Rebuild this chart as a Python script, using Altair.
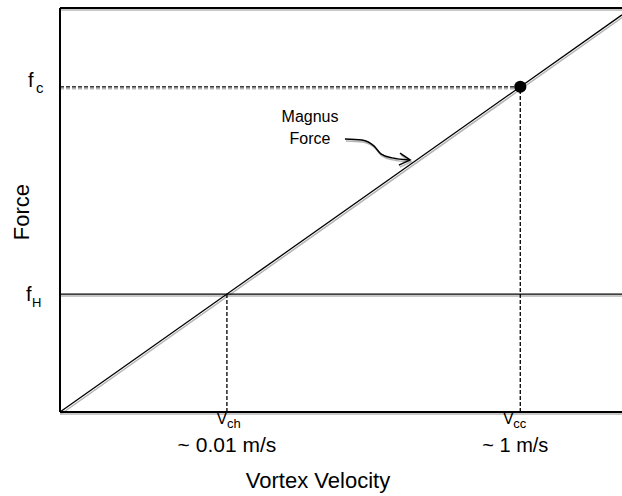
import altair as alt
import pandas as pd

# ---- values (arbitrary linear units) ----
magnus_x = [0, 10]
magnus_y = [0, 9.83]
v_ch = 2.97      # ~0.01 m/s
v_cc = 8.19      # ~1 m/s
f_H = 2.92
f_c = 8.05
x_max = 10
y_max = 10

# hand-drawn curved arrow pointing at the Magnus force line
arrow_x = [5.07, 5.37, 5.59, 5.71, 5.91, 6.21]
arrow_y = [6.76, 6.73, 6.58, 6.39, 6.29, 6.24]
head_x = [6.05, 6.23, 6.03]
head_y = [6.41, 6.24, 6.11]

FONT = "Liberation Sans"
SHADOW = "#b4b4b4"

xs = alt.Scale(domain=[0, x_max], nice=False, zero=False)
ys = alt.Scale(domain=[0, y_max], nice=False, zero=False)

base = alt.Chart(pd.DataFrame({"_": [0]}))

def seg(df, color, width, dash=None, xo=0, yo=0, interp="linear", order=False):
    kw = dict(color=color, strokeWidth=width, xOffset=xo, yOffset=yo,
              interpolate=interp, strokeCap="butt")
    if dash:
        kw["strokeDash"] = dash
    enc = dict(x=alt.X("x:Q", scale=xs, axis=None),
               y=alt.Y("y:Q", scale=ys, axis=None))
    if order:
        enc["order"] = alt.Order("i:Q")
    return alt.Chart(df).mark_line(**kw).encode(**enc)

magnus = pd.DataFrame({"x": magnus_x, "y": magnus_y})
fh_line = pd.DataFrame({"x": [0, x_max], "y": [f_H, f_H]})
fc_dash = pd.DataFrame({"x": [0, v_cc], "y": [f_c, f_c]})
vcc_dash = pd.DataFrame({"x": [v_cc, v_cc], "y": [0, f_c]})
vch_dash = pd.DataFrame({"x": [v_ch, v_ch], "y": [0, f_H]})
arrow = pd.DataFrame({"x": arrow_x, "y": arrow_y, "i": range(len(arrow_x))})
head = pd.DataFrame({"x": head_x, "y": head_y, "i": range(len(head_x))})
top = pd.DataFrame({"x": [0, x_max], "y": [y_max, y_max]})
bottom = pd.DataFrame({"x": [0, x_max], "y": [0, 0]})
left = pd.DataFrame({"x": [0, 0], "y": [0, y_max]})

layers = []
# shadows
for df in (top, bottom, fh_line):
    layers.append(seg(df, SHADOW, 1.5, yo=2))
layers.append(seg(magnus, SHADOW, 1.5, xo=1, yo=2))
layers.append(seg(fc_dash, SHADOW, 1.5, dash=[4, 2], yo=2))
layers.append(seg(arrow, SHADOW, 1.5, xo=1, yo=2, interp="monotone", order=True))
layers.append(seg(head, SHADOW, 1.5, xo=1, yo=2, order=True))
# black lines
for df in (top, bottom, left):
    layers.append(seg(df, "black", 2))
layers.append(seg(fh_line, "black", 1.3))
layers.append(seg(magnus, "black", 1.3))
layers.append(seg(fc_dash, "black", 1.3, dash=[4, 2]))
layers.append(seg(vcc_dash, "black", 1.3, dash=[4, 2]))
layers.append(seg(vch_dash, "black", 1.3, dash=[4, 2]))
layers.append(seg(arrow, "black", 1.5, interp="monotone", order=True))
layers.append(seg(head, "black", 1.5, order=True))

# critical point
layers.append(
    alt.Chart(pd.DataFrame({"x": [v_cc], "y": [f_c]}))
    .mark_point(filled=True, color="black", size=150, opacity=1)
    .encode(x=alt.X("x:Q", scale=xs, axis=None), y=alt.Y("y:Q", scale=ys, axis=None))
)

def txt(text, size, x, y, dx=0, dy=0, align="left", baseline="alphabetic", angle=0):
    kw = dict(font=FONT, fontSize=size, color="black", align=align,
              baseline=baseline, dx=dx, dy=dy, clip=False)
    if angle:
        kw["angle"] = angle
    if isinstance(text, list):
        kw["lineHeight"] = 22
    return base.mark_text(**kw).encode(x=x, y=y, text=alt.value(text))

# y tick labels
layers.append(txt("f", 20, alt.value(-32), alt.datum(f_c, scale=ys), dy=0))
layers.append(txt("c", 15, alt.value(-24), alt.datum(f_c, scale=ys), dy=6))
layers.append(txt("f", 20, alt.value(-34), alt.datum(f_H, scale=ys), dy=7))
layers.append(txt("H", 13, alt.value(-28), alt.datum(f_H, scale=ys), dy=13))
# x tick labels
layers.append(txt("V", 16, alt.datum(v_ch, scale=xs), alt.value(416), dx=-5, align="center"))
layers.append(txt("ch", 13, alt.datum(v_ch, scale=xs), alt.value(420), dx=0))
layers.append(txt("~ 0.01 m/s", 21, alt.datum(v_ch, scale=xs), alt.value(444), dx=0, align="center"))
layers.append(txt("V", 16, alt.datum(v_cc, scale=xs), alt.value(416), dx=-12, align="center"))
layers.append(txt("cc", 13, alt.datum(v_cc, scale=xs), alt.value(420), dx=-7))
layers.append(txt("~ 1 m/s", 20, alt.datum(v_cc, scale=xs), alt.value(444), dx=-5, align="center"))
# axis titles
layers.append(txt("Vortex Velocity", 22, alt.value(258), alt.value(480), align="center"))
layers.append(txt("Force", 22, alt.value(-38), alt.value(204), align="center",
                  baseline="middle", angle=270))
# annotation
layers.append(txt(["Magnus", "Force"], 16, alt.value(250), alt.value(114), align="center"))

chart = (
    alt.layer(*layers)
    .properties(width=562, height=404,
                autosize=alt.AutoSizeParams(type="none"),
                padding={"left": 60, "top": 8, "right": 0, "bottom": 84})
    .configure_view(stroke=None)
)

chart.save("out.html", embed_options={"renderer": "svg", "actions": False})
